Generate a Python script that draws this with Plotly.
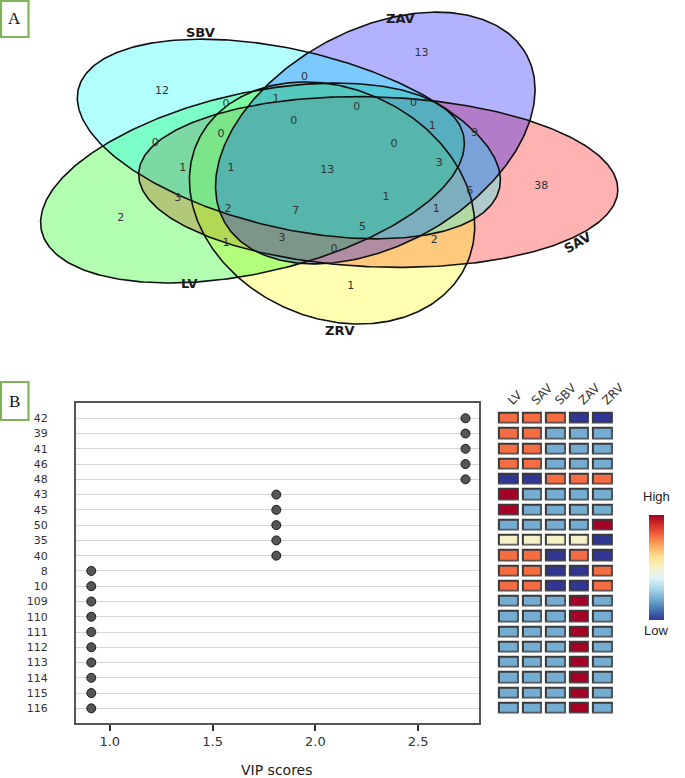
import numpy as np
import plotly.graph_objects as go

W, H = 685, 778

# ---------------- Panel A : five-set Venn diagram (region counts) ----------------
set_names = ["SBV", "ZAV", "SAV", "ZRV", "LV"]
set_fill = ["rgba(0,255,255,0.3)", "rgba(0,0,255,0.3)", "rgba(255,0,0,0.3)",
            "rgba(255,255,0,0.3)", "rgba(0,255,0,0.3)"]
region_counts = [12, 0, 1, 0, 0, 0, 0, 1, 1, 13, 3,
                 13, 0, 0, 1, 9, 0, 3, 38, 6, 1,
                 2, 2, 7, 1, 3, 1, 5, 2, 1, 0]

# ---------------- Panel B : VIP scores and group heat map ----------------
features = ["42", "39", "41", "46", "48", "43", "45", "50", "35", "40",
            "8", "10", "109", "110", "111", "112", "113", "114", "115", "116"]
vip_scores = [2.73, 2.73, 2.73, 2.73, 2.73, 1.81, 1.81, 1.81, 1.81, 1.81,
              0.91, 0.91, 0.91, 0.91, 0.91, 0.91, 0.91, 0.91, 0.91, 0.91]
groups = ["LV", "SAV", "SBV", "ZAV", "ZRV"]
relative_level = [
    [0.8, 0.8, 0.8, 0.0, 0.0], [0.8, 0.8, 0.2, 0.2, 0.2], [0.8, 0.8, 0.2, 0.2, 0.2],
    [0.8, 0.8, 0.2, 0.2, 0.2], [0.0, 0.0, 0.8, 0.8, 0.8], [1.0, 0.2, 0.2, 0.2, 0.2],
    [1.0, 0.2, 0.2, 0.2, 0.2], [0.2, 0.2, 0.2, 0.2, 1.0], [0.5, 0.5, 0.5, 0.5, 0.0],
    [0.8, 0.8, 0.0, 0.8, 0.0], [0.8, 0.8, 0.0, 0.0, 0.8], [0.8, 0.8, 0.0, 0.0, 0.8],
    [0.2, 0.2, 0.2, 1.0, 0.2], [0.2, 0.2, 0.2, 1.0, 0.2], [0.2, 0.2, 0.2, 1.0, 0.2],
    [0.2, 0.2, 0.2, 1.0, 0.2], [0.2, 0.2, 0.2, 1.0, 0.2], [0.2, 0.2, 0.2, 1.0, 0.2],
    [0.2, 0.2, 0.2, 1.0, 0.2], [0.2, 0.2, 0.2, 1.0, 0.2],
]


def px_x(p):
    return p / W


def px_y(p):
    return 1 - p / H


# Venn ellipse geometry (layout, panel-A pixel frame): centre, semi-axes, major-axis angle
ellipse_geom = {
    "SAV": dict(cx=385, cy=182, a=244, b=85, ang=2),
    "ZRV": dict(cx=338, cy=203, a=150, b=115, ang=23),
    "LV":  dict(cx=257, cy=183, a=220, b=90, ang=-12.5),
    "ZAV": dict(cx=382, cy=138, a=175, b=108, ang=-28),
    "SBV": dict(cx=294, cy=139, a=220, b=89, ang=13),
}
draw_order = ["SAV", "ZRV", "LV", "ZAV", "SBV"]
region_label_px = [(165, 91), (230, 104), (281, 99), (310, 77), (299, 121), (225, 134), (158, 143),
                   (186, 168), (235, 168), (333, 170), (181, 198), (429, 53), (363, 107), (421, 103),
                   (440, 126), (483, 133), (401, 144), (447, 163), (551, 186), (478, 191), (393, 197),
                   (123, 218), (232, 209), (301, 211), (230, 243), (287, 238), (444, 209), (369, 227),
                   (442, 240), (357, 286), (340, 249)]
set_label_px = {"SBV": (204, 32, 0), "ZAV": (408, 18, 0), "SAV": (588, 242, -30),
                "ZRV": (346, 330, 0), "LV": (193, 283, 0)}

fig = go.Figure()
t = np.linspace(0, 2 * np.pi, 361)


def ell_xy(g):
    r = np.deg2rad(g["ang"])
    ex, ey = g["a"] * np.cos(t), g["b"] * np.sin(t)
    return (g["cx"] + ex * np.cos(r) - ey * np.sin(r),
            g["cy"] + ex * np.sin(r) + ey * np.cos(r))


for name in draw_order:
    x, y = ell_xy(ellipse_geom[name])
    fig.add_trace(go.Scatter(x=x, y=y, mode="lines", fill="toself",
                             fillcolor=set_fill[set_names.index(name)], line=dict(width=0),
                             hoverinfo="skip", showlegend=False))
for name in draw_order:
    x, y = ell_xy(ellipse_geom[name])
    fig.add_trace(go.Scatter(x=x, y=y, mode="lines", line=dict(color="#111111", width=1.6),
                             hoverinfo="skip", showlegend=False))
fig.add_trace(go.Scatter(x=[p[0] for p in region_label_px], y=[p[1] for p in region_label_px],
                         mode="text", text=[str(c) for c in region_counts],
                         textfont=dict(family="DejaVu Sans", size=11, color="#333333"),
                         hoverinfo="skip", showlegend=False))

annotations = []
for name in set_names:
    x, y, ang = set_label_px[name]
    annotations.append(dict(x=x, y=y, xref="x", yref="y", text=name, showarrow=False, textangle=ang,
                            font=dict(family="DejaVu Sans", size=13, color="#1a1a1a", weight="bold")))

# ---------------- dot plot ----------------
fig.add_trace(go.Scatter(x=vip_scores, y=features, mode="markers",
                         marker=dict(size=9, color="#555555", line=dict(color="#1a1a1a", width=1)),
                         showlegend=False, xaxis="x2", yaxis="y2"))

# ---------------- heat map with dark cell borders ----------------
rdylbu_r = ["#313695", "#4575b4", "#74add1", "#abd9e9", "#e0f3f8", "#f5f1c6",
            "#fee090", "#fdae61", "#f46d43", "#d73027", "#a50026"]
cscale = [[i / 10, c] for i, c in enumerate(rdylbu_r)]
fig.add_trace(go.Heatmap(z=[[1] * len(groups) for _ in features], x=groups, y=features,
                         colorscale=[[0, "#3a3a3a"], [1, "#3a3a3a"]], showscale=False,
                         xgap=3, ygap=3.4, hoverinfo="skip", xaxis="x3", yaxis="y3"))
fig.add_trace(go.Heatmap(z=relative_level, x=groups, y=features, colorscale=cscale, zmin=0, zmax=1,
                         xgap=6.6, ygap=6.8,
                         colorbar=dict(x=px_x(661), xanchor="left", y=px_y(567.5), yanchor="middle",
                                       len=105, lenmode="pixels", thickness=15, xpad=0, ypad=0,
                                       outlinewidth=0, showticklabels=False, ticks=""),
                         xaxis="x3", yaxis="y3"))

annotations += [
    dict(x=px_x(668), y=px_y(496), xref="paper", yref="paper", text="High", showarrow=False,
         xanchor="center", yanchor="middle",
         font=dict(family="Liberation Sans", size=13, color="#222222")),
    dict(x=px_x(668), y=px_y(630), xref="paper", yref="paper", text="Low", showarrow=False,
         xanchor="center", yanchor="middle",
         font=dict(family="Liberation Sans", size=13, color="#222222")),
    dict(x=px_x(282), y=px_y(770), xref="paper", yref="paper", text="VIP scores", showarrow=False,
         xanchor="center", yanchor="middle",
         font=dict(family="DejaVu Sans", size=14, color="#222222")),
    dict(x=px_x(15), y=px_y(18), xref="paper", yref="paper", text="A", showarrow=False,
         xanchor="center", yanchor="middle",
         font=dict(family="Liberation Serif", size=17, color="#111111")),
    dict(x=px_x(15), y=px_y(401), xref="paper", yref="paper", text="B", showarrow=False,
         xanchor="center", yanchor="middle",
         font=dict(family="Liberation Serif", size=17, color="#111111")),
]
shapes = [
    dict(type="rect", xref="paper", yref="paper", x0=px_x(1), x1=px_x(29), y0=px_y(37), y1=px_y(1),
         line=dict(color="#80b25a", width=2.2)),
    dict(type="rect", xref="paper", yref="paper", x0=px_x(1), x1=px_x(29), y0=px_y(420), y1=px_y(382),
         line=dict(color="#80b25a", width=2.2)),
]

fig.update_layout(
    width=W, height=H, margin=dict(l=0, r=0, t=0, b=0), autosize=False,
    paper_bgcolor="white", plot_bgcolor="white", annotations=annotations, shapes=shapes,
    xaxis=dict(domain=[0, 1], range=[0, W], visible=False),
    yaxis=dict(domain=[px_y(360), 1], range=[360, 0], visible=False),
    xaxis2=dict(domain=[px_x(77), px_x(488)], range=[0.834, 2.798], anchor="y2",
                showgrid=False, zeroline=False, showline=True, mirror=True,
                linecolor="#555555", linewidth=1.5,
                tickvals=[1.0, 1.5, 2.0, 2.5], ticktext=["1.0", "1.5", "2.0", "2.5"],
                ticks="outside", ticklen=6, tickwidth=1.5, tickcolor="#333333",
                tickfont=dict(family="DejaVu Sans", size=13, color="#333333")),
    yaxis2=dict(domain=[px_y(723), px_y(403)], anchor="x2", type="category",
                categoryorder="array", categoryarray=features, range=[19.96, -1.0],
                showgrid=True, gridcolor="#d6d6d6", gridwidth=1.3,
                showline=True, mirror=True, linecolor="#555555", linewidth=1.5,
                ticks="", ticklabelstandoff=24,
                tickfont=dict(family="DejaVu Sans", size=11, color="#333333")),
    xaxis3=dict(domain=[px_x(505.7), px_x(625.7)], anchor="y3", side="top",
                type="category", categoryorder="array", categoryarray=groups,
                showgrid=False, zeroline=False, showline=False, ticks="",
                tickangle=-45, tickfont=dict(family="DejaVu Sans", size=12, color="#333333")),
    yaxis3=dict(domain=[px_y(715.9), px_y(410.7)], anchor="x3", type="category",
                categoryorder="array", categoryarray=features, range=[19.5, -0.5], visible=False),
)

fig.write_html("out.html", config={"displayModeBar": False, "responsive": False},
               post_script="document.body.style.margin='0px';"
                           "document.body.style.overflow='hidden';"
                           "document.documentElement.style.overflow='hidden';")
